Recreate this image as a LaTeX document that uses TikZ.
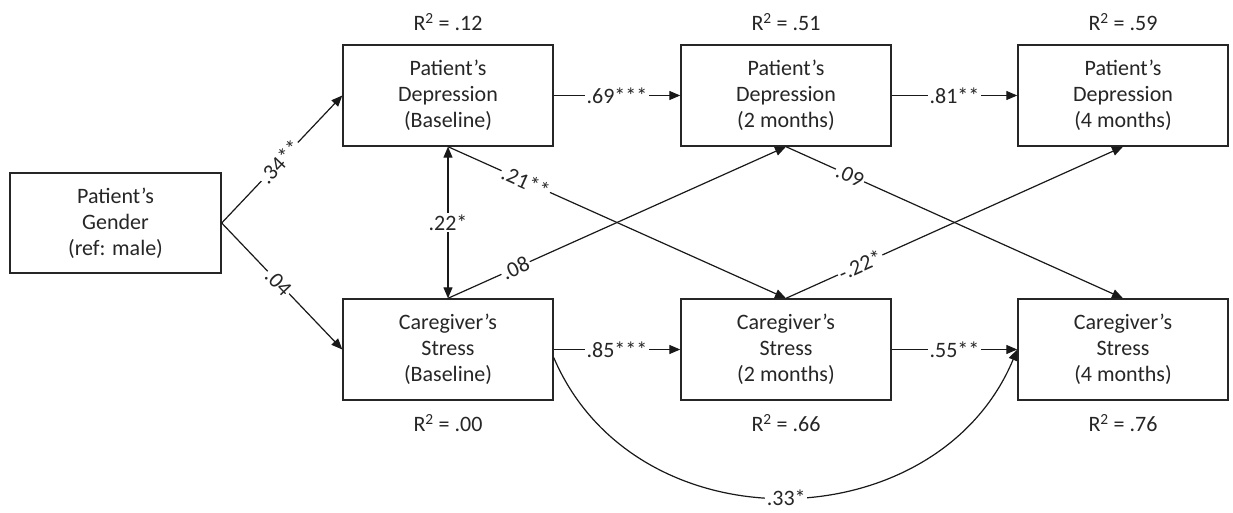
\documentclass[tikz,border=0pt]{standalone}
\usepackage{fontspec}
\setmainfont{Carlito}
\usetikzlibrary{arrows.meta}
\begin{document}
\begin{tikzpicture}[x=1pt,y=-1pt,
  box/.style={draw=black!85, line width=1.4pt, minimum width=210pt, minimum height=101pt,
    align=center, inner sep=0pt, text=black!85, font=\fontsize{22}{26}\selectfont},
  lbl/.style={font=\fontsize{22}{26}\selectfont, text=black!85, fill=white, inner sep=1.5pt},
  rsq/.style={font=\fontsize{22}{26}\selectfont, text=black!85},
  tip/.style={Triangle[length=11pt,width=9pt]},
  conn/.style={line width=1.2pt, draw=black!90, -{Triangle[length=11pt,width=9pt]}},
  dconn/.style={line width=1.2pt, draw=black!90, {Triangle[length=11pt,width=9pt]}-{Triangle[length=11pt,width=9pt]}}
]
\useasboundingbox (0,0) rectangle (1233,513);
\fill[white] (0,0) rectangle (1233,513);

\node[box, minimum width=211pt, minimum height=100pt] (gen) at (115.5,223) {Patient’s\\Gender\\(ref: male)};
\node[box] (dep0) at (448,95.5) {Patient’s\\Depression\\(Baseline)};
\node[box] (dep2) at (786,95.5) {Patient’s\\Depression\\(2 months)};
\node[box] (dep4) at (1123,95.5) {Patient’s\\Depression\\(4 months)};
\node[box] (str0) at (448,349.5) {Caregiver’s\\Stress\\(Baseline)};
\node[box] (str2) at (786,349.5) {Caregiver’s\\Stress\\(2 months)};
\node[box] (str4) at (1123,349.5) {Caregiver’s\\Stress\\(4 months)};

\node[rsq] (r0) at (448,22) {R\textsuperscript{2} = .12};
\node[rsq] (r1) at (786,22) {R\textsuperscript{2} = .51};
\node[rsq] (r2) at (1123,22) {R\textsuperscript{2} = .59};
\node[rsq] (r3) at (448,423) {R\textsuperscript{2} = .00};
\node[rsq] (r4) at (786,423) {R\textsuperscript{2} = .66};
\node[rsq] (r5) at (1123,423) {R\textsuperscript{2} = .76};

\draw[conn] (gen.east) -- node[lbl,sloped,pos=0.48]{.34**} (dep0.west);
\draw[conn] (gen.east) -- node[lbl,sloped,pos=0.47]{.04} (str0.west);
\draw[conn] (dep0.east) -- node[lbl]{.69***} (dep2.west);
\draw[conn] (dep2.east) -- node[lbl]{.81**} (dep4.west);
\draw[conn] (str0.east) -- node[lbl]{.85***} (str2.west);
\draw[conn] (str2.east) -- node[lbl]{.55**} (str4.west);
\draw[dconn] (dep0.south) -- node[lbl]{.22*} (str0.north);
\draw[conn] (str0.north) -- node[lbl,sloped,pos=0.2]{.08} (dep2.south);
\draw[conn] (dep0.south) -- node[lbl,sloped,pos=0.23]{.21**} (str2.north);
\draw[conn] (dep2.south) -- node[lbl,sloped,pos=0.19]{.09} (str4.north);
\draw[conn] (str2.north) -- node[lbl,sloped,pos=0.22]{-.22*} (dep4.south);
\draw[conn] ([yshift=-8pt]str0.east) .. controls +(82,192) and +(-80,192) .. node[lbl,pos=0.5]{.33*} (str4.west);
\end{tikzpicture}
\end{document}
